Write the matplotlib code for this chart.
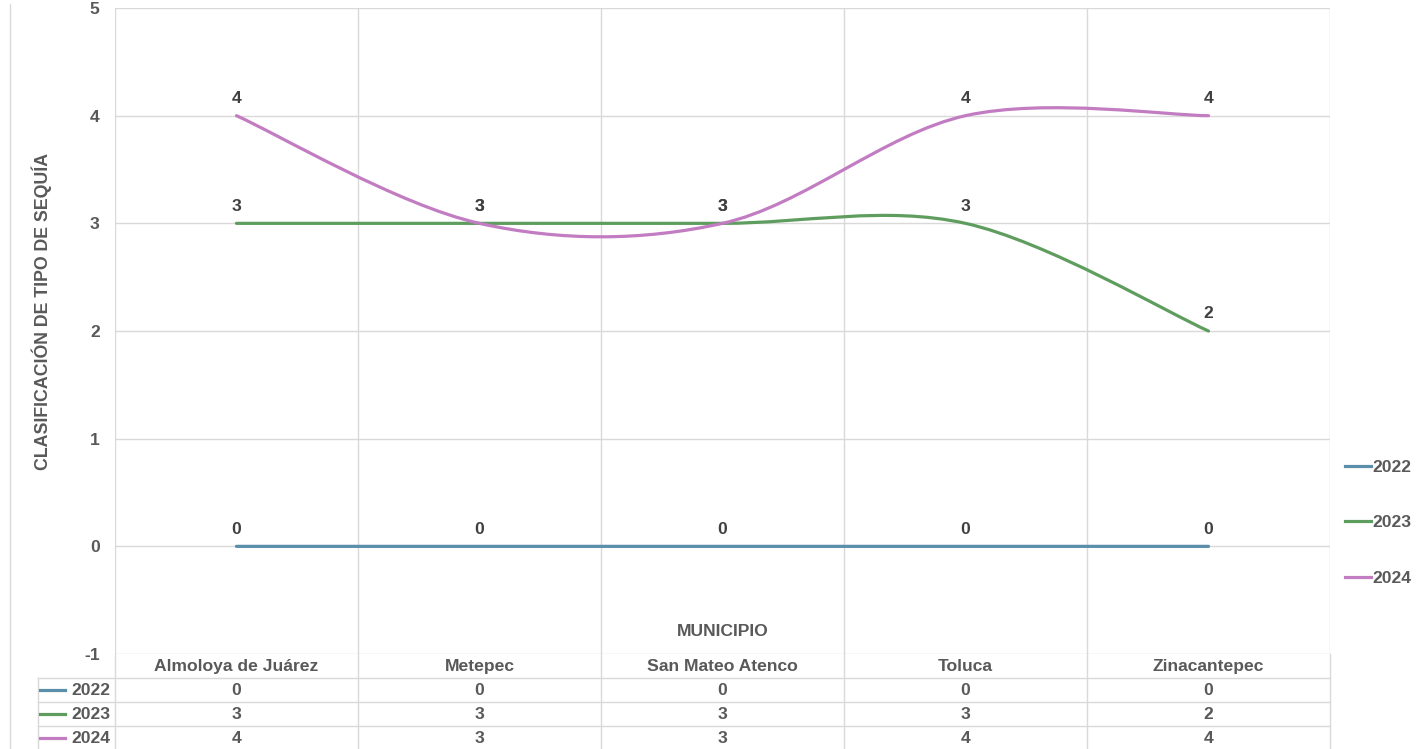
import matplotlib
matplotlib.use("Agg")
import matplotlib.pyplot as plt
from matplotlib.path import Path
from matplotlib.patches import PathPatch
from matplotlib.lines import Line2D
import numpy as np

plt.rcParams['font.family'] = ['Liberation Sans', 'DejaVu Sans']
plt.rcParams['axes.unicode_minus'] = False

municipios = ["Almoloya de Juárez", "Metepec", "San Mateo Atenco", "Toluca", "Zinacantepec"]
years = ["2022", "2023", "2024"]
v2022 = [0, 0, 0, 0, 0]
v2023 = [3, 3, 3, 3, 2]
v2024 = [4, 3, 3, 4, 4]
series = [v2022, v2023, v2024]
colors = ["#5b8ea9", "#5f9d5f", "#c27cc2"]

grid_c = "#d9d9d9"
text_c = "#595959"
label_c = "#404040"
fs = 12.6


def smooth_path(xs, ys):
    # Catmull-Rom style bezier, like the spreadsheet "smoothed line"
    pts = np.column_stack([xs, ys]).astype(float)
    n = len(pts)
    verts = [pts[0]]
    codes = [Path.MOVETO]
    for i in range(n - 1):
        p0 = pts[i - 1] if i > 0 else pts[i]
        p1 = pts[i]
        p2 = pts[i + 1]
        p3 = pts[i + 2] if i + 2 < n else pts[i + 1]
        c1 = p1 + (p2 - p0) / 6.0
        c2 = p2 - (p3 - p1) / 6.0
        verts += [c1, c2, p2]
        codes += [Path.CURVE4] * 3
    return Path(verts, codes)


fig = plt.figure(figsize=(14.19, 7.49), dpi=100)
ax = fig.add_axes([0.081, 0.1268, 0.8563, 0.8625])

x = np.arange(len(municipios))
ax.set_xlim(-0.5, len(municipios) - 0.5)
ax.set_ylim(-1, 5)

for y in range(-1, 6):
    ax.axhline(y, color=grid_c, lw=1, zorder=0)
for b in np.arange(-0.5, len(municipios), 1.0):
    ax.axvline(b, color=grid_c, lw=1, zorder=0)

for vals, col in zip(series, colors):
    ax.add_patch(PathPatch(smooth_path(x, vals), fill=False, edgecolor=col, lw=2.3, zorder=3,
                           capstyle='round'))
    for xi, v in zip(x, vals):
        ax.annotate(str(v), (xi, v), xytext=(0, 7), textcoords='offset points', ha='center',
                    va='bottom', fontsize=fs, fontweight='bold', color=label_c)

for s in ax.spines.values():
    s.set_visible(False)
ax.set_xticks([])
ax.set_yticks(range(-1, 6))
ax.tick_params(axis='y', length=0, pad=11, labelsize=fs, labelcolor=text_c)
for t in ax.get_yticklabels():
    t.set_fontweight('bold')

ax.set_ylabel("CLASIFICACIÓN DE TIPO DE SEQUÍA", fontsize=12.8, fontweight='bold', color=text_c)
ax.yaxis.set_label_coords(-0.0515, 0.53)
ax.text(0.5, 0.035, "MUNICIPIO", transform=ax.transAxes, ha='center', va='center',
        fontsize=fs, fontweight='bold', color=text_c)

# data table under the axis
row_h = 24 / 646.0
tr = ax.get_xaxis_transform()
left_col = -0.0634
for k in range(1, 5):
    yy = -k * row_h
    ax.add_line(Line2D([left_col, 1], [yy, yy], transform=ax.transAxes, color=grid_c, lw=1,
                       clip_on=False))
ax.add_line(Line2D([left_col, left_col], [-row_h, -4 * row_h], transform=ax.transAxes,
                   color=grid_c, lw=1, clip_on=False))
for b in np.arange(-0.5, len(municipios), 1.0):
    ax.add_line(Line2D([b, b], [0, -4 * row_h], transform=tr, color=grid_c, lw=1, clip_on=False))

for xi, name in zip(x, municipios):
    ax.text(xi, -0.5 * row_h, name, transform=tr, ha='center', va='center', fontsize=fs,
            fontweight='bold', color=text_c)
for r, (yr, vals, col) in enumerate(zip(years, series, colors)):
    yy = -(r + 1.5) * row_h
    ax.add_line(Line2D([left_col + 0.002, left_col + 0.022], [yy, yy], transform=ax.transAxes,
                       color=col, lw=2.3, clip_on=False))
    ax.text(-0.004, yy, yr, transform=ax.transAxes, ha='right', va='center', fontsize=fs,
            fontweight='bold', color=text_c)
    for xi, v in zip(x, vals):
        ax.text(xi, yy, str(v), transform=tr, ha='center', va='center', fontsize=fs,
                fontweight='bold', color=text_c)

# legend on the right
handles = [Line2D([], [], color=c, lw=2.3) for c in colors]
leg = fig.legend(handles, years, loc='center left', bbox_to_anchor=(0.937, 0.302), frameon=False,
                 handlelength=1.45, handletextpad=0.1, labelspacing=2.3,
                 prop={'size': fs, 'weight': 'bold'})
for t in leg.get_texts():
    t.set_color(text_c)

# outer chart border line at the left
fig.add_artist(Line2D([0.007, 0.007], [0.0, 0.995], transform=fig.transFigure, color=grid_c, lw=1))

fig.savefig("out.png", dpi=100)
